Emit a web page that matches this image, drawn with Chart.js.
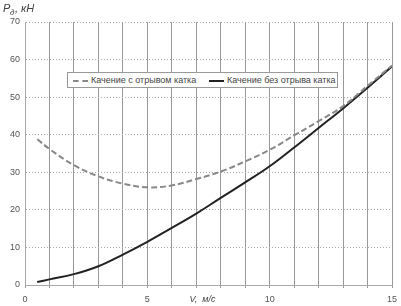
<!DOCTYPE html>
<html>
<head>
<meta charset="utf-8">
<script src="https://cdn.jsdelivr.net/npm/chart.js@4"></script>
<style>
  body { margin: 0; background: #fff; }
  #wrap { position: relative; width: 401px; height: 306px; }
  #legend {
    position: absolute; left: 67px; top: 72px; width: 269px; height: 14px;
    border: 1px solid #999; background: #fff;
    font: 9px "Liberation Sans", Arial, sans-serif; color: #444;
  }
  #legend span { position: absolute; top: 2px; white-space: nowrap; }
  .sample { position: absolute; top: 7px; height: 0; }
</style>
</head>
<body>
<div id="wrap">
  <canvas id="myChart" width="401" height="306"></canvas>
  <div id="legend">
    <div class="sample" style="left:5px;width:15px;border-top:2px dashed #888;"></div>
    <span style="left:23px;">Качение с отрывом катка</span>
    <div class="sample" style="left:141px;width:15px;border-top:2px solid #222;"></div>
    <span style="left:159px;">Качение без отрыва катка</span>
  </div>
</div>
<script>
// speed, m/s
const speeds = [0.5, 1, 2, 3, 4, 5, 6, 7, 8, 9, 10, 11, 12, 13, 14, 15];
// force with wheel lift-off (dashed)
const withLift = [38.8, 36.2, 31.9, 28.9, 27.0, 26.0, 26.5, 28.2, 30.2, 32.9, 36.0, 39.8, 43.6, 47.6, 53.0, 58.4];
// force without wheel lift-off (solid)
const noLift = [0.8, 1.5, 2.9, 5.0, 8.1, 11.5, 15.2, 19.0, 23.2, 27.3, 31.6, 36.6, 41.8, 47.0, 52.5, 58.2];
const xLabels = [0, 5, 10, 15];
const seriesNames = ["Качение с отрывом катка", "Качение без отрыва катка"];

const font = "Liberation Sans";

// axis titles drawn on the canvas
const titles = {
  id: "titles",
  afterDraw(chart) {
    const ctx = chart.ctx;
    const xs = chart.scales.x;
    ctx.save();
    ctx.fillStyle = "#444";
    ctx.textBaseline = "alphabetic";
    ctx.font = "italic 11px " + font;
    ctx.fillText("P", 3, 12);
    ctx.font = "italic 8px " + font;
    ctx.fillText("д", 10, 15);
    ctx.font = "italic 11px " + font;
    ctx.fillText(", кН", 15, 12);
    ctx.font = "italic 9px " + font;
    ctx.textAlign = "center";
    ctx.fillText("V,  м/с", xs.getPixelForValue(7.25), 302);
    ctx.restore();
  }
};

const ctx = document.getElementById("myChart").getContext("2d");
const chart = new Chart(ctx, {
  type: "line",
  data: {
    datasets: [
      {
        label: seriesNames[0],
        data: speeds.map((s, i) => ({ x: s, y: withLift[i] })),
        borderColor: "#888",
        borderWidth: 2,
        borderDash: [6, 3],
        pointRadius: 0,
        tension: 0.4,
        fill: false
      },
      {
        label: seriesNames[1],
        data: speeds.map((s, i) => ({ x: s, y: noLift[i] })),
        borderColor: "#222",
        borderWidth: 2,
        pointRadius: 0,
        tension: 0.4,
        fill: false
      }
    ]
  },
  options: {
    responsive: false,
    animation: false,
    layout: { padding: { top: 22, right: 9, left: 0, bottom: 0 } },
    plugins: { legend: { display: false }, tooltip: { enabled: false } },
    scales: {
      x: {
        type: "linear",
        min: 0, max: 15,
        afterFit: s => { s.height = 21; s.paddingRight = 0; s.paddingLeft = 0; },
        grid: { color: "#999", tickLength: 3 },
        border: { color: "#aaa" },
        ticks: {
          stepSize: 1,
          padding: 6,
          maxRotation: 0,
          autoSkip: false,
          color: "#555",
          font: { family: font, size: 9 },
          callback: v => xLabels.includes(v) ? String(v) : ""
        }
      },
      y: {
        min: 0, max: 70,
        afterFit: s => { s.width = 25; },
        grid: { color: "#aaa", drawTicks: false },
        border: { color: "#aaa", dash: [1, 2] },
        ticks: {
          stepSize: 10,
          padding: 5,
          color: "#555",
          font: { family: font, size: 9 }
        }
      }
    }
  },
  plugins: [titles]
});
</script>
</body>
</html>
